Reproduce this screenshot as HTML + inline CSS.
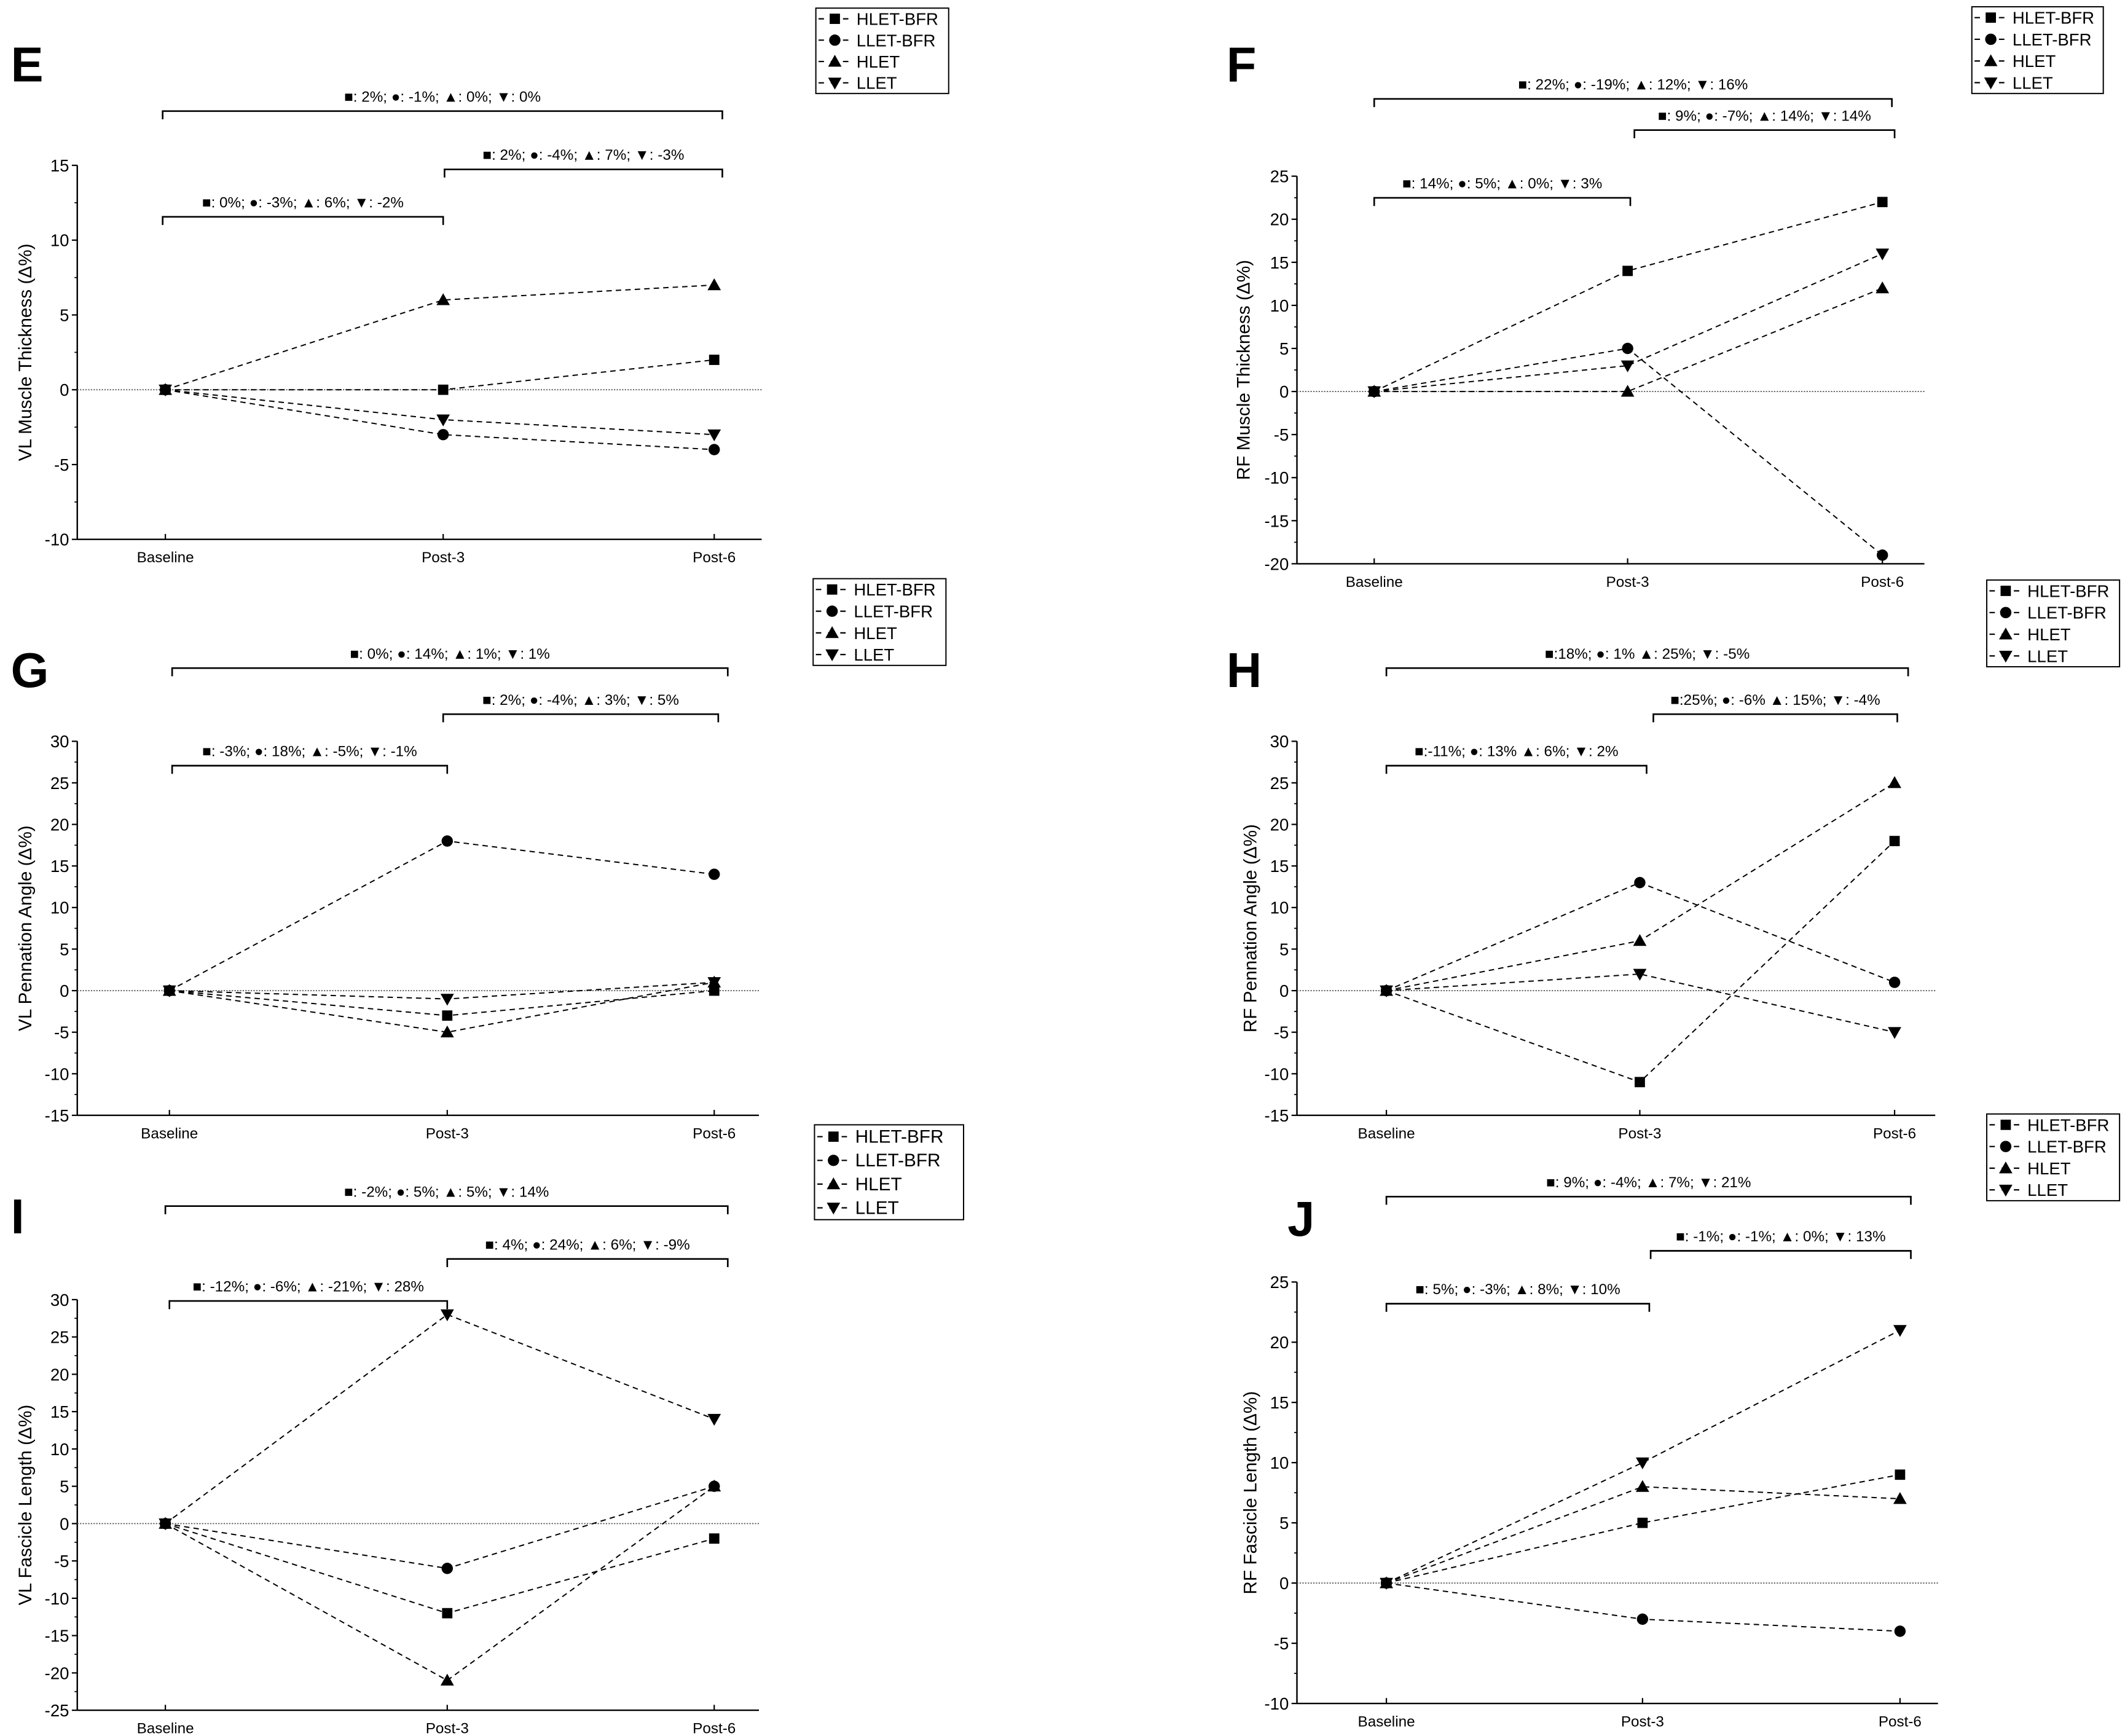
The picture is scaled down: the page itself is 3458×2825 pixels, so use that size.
<!DOCTYPE html>
<html><head><meta charset="utf-8"><style>
html,body{margin:0;padding:0;background:#fff}
svg{display:block}
text{font-family:"Liberation Sans","DejaVu Sans",sans-serif;fill:#000}
</style></head><body>
<svg id="fig" xmlns="http://www.w3.org/2000/svg" width="3458" height="2825" viewBox="0 0 1568 1281">
<rect width="1568" height="1281" fill="#fff"/>
</svg>
<script>
const categories = ['Baseline','Post-3','Post-6'];
const seriesNames = ['HLET-BFR','LLET-BFR','HLET','LLET'];
const seriesMarkers = ['square','circle','up','down'];
// values per panel: [HLET-BFR, LLET-BFR, HLET, LLET]
const valsE_HB=[0,0,2], valsE_LB=[0,-3,-4], valsE_H=[0,6,7], valsE_L=[0,-2,-3];
const valsF_HB=[0,14,22], valsF_LB=[0,5,-19], valsF_H=[0,0,12], valsF_L=[0,3,16];
const valsG_HB=[0,-3,0], valsG_LB=[0,18,14], valsG_H=[0,-5,1], valsG_L=[0,-1,1];
const valsH_HB=[0,-11,18], valsH_LB=[0,13,1], valsH_H=[0,6,25], valsH_L=[0,2,-5];
const valsI_HB=[0,-12,-2], valsI_LB=[0,-6,5], valsI_H=[0,-21,5], valsI_L=[0,28,14];
const valsJ_HB=[0,5,9], valsJ_LB=[0,-3,-4], valsJ_H=[0,8,7], valsJ_L=[0,10,21];
const ticksE=[-10,-5,0,5,10,15], ticksF=[-20,-15,-10,-5,0,5,10,15,20,25];
const ticksG=[-15,-10,-5,0,5,10,15,20,25,30], ticksH=[-15,-10,-5,0,5,10,15,20,25,30];
const ticksI=[-25,-20,-15,-10,-5,0,5,10,15,20,25,30], ticksJ=[-10,-5,0,5,10,15,20,25];
const titles={E:'VL Muscle Thickness (Δ%)',F:'RF Muscle Thickness (Δ%)',G:'VL Pennation Angle (Δ%)',H:'RF Pennation Angle (Δ%)',I:'VL Fascicle Length (Δ%)',J:'RF Fascicle Length (Δ%)'};
const bracketLabelsE=['■: 2%; ●: -1%; ▲: 0%; ▼: 0%','■: 2%; ●: -4%; ▲: 7%; ▼: -3%','■: 0%; ●: -3%; ▲: 6%; ▼: -2%'];
const bracketLabelsF=['■: 22%; ●: -19%; ▲: 12%; ▼: 16%','■: 9%; ●: -7%; ▲: 14%; ▼: 14%','■: 14%; ●: 5%; ▲: 0%; ▼: 3%'];
const bracketLabelsG=['■: 0%; ●: 14%; ▲: 1%; ▼: 1%','■: 2%; ●: -4%; ▲: 3%; ▼: 5%','■: -3%; ●: 18%; ▲: -5%; ▼: -1%'];
const bracketLabelsH=['■:18%; ●: 1% ▲: 25%; ▼: -5%','■:25%; ●: -6% ▲: 15%; ▼: -4%','■:-11%; ●: 13% ▲: 6%; ▼: 2%'];
const bracketLabelsI=['■: -2%; ●: 5%; ▲: 5%; ▼: 14%','■: 4%; ●: 24%; ▲: 6%; ▼: -9%','■: -12%; ●: -6%; ▲: -21%; ▼: 28%'];
const bracketLabelsJ=['■: 9%; ●: -4%; ▲: 7%; ▼: 21%','■: -1%; ●: -1%; ▲: 0%; ▼: 13%','■: 5%; ●: -3%; ▲: 8%; ▼: 10%'];

const NS='http://www.w3.org/2000/svg';
const svg=document.getElementById('fig');
function mk(tag,attrs,parent){const e=document.createElementNS(NS,tag);for(const k in attrs)e.setAttribute(k,attrs[k]);(parent||svg).appendChild(e);return e;}

const layouts=[
 {id:'E',data:[valsE_HB,valsE_LB,valsE_H,valsE_L],ticks:ticksE,br:bracketLabelsE,ax:57,yT:122,yB:398,xEnd:562,cx:[122,327,527],lx:8,ly:60,lg:[602,6,98,63],brs:[[120,533,82],[328,533,125],[120,327,160]],tx:18},
 {id:'F',data:[valsF_HB,valsF_LB,valsF_H,valsF_L],ticks:ticksF,br:bracketLabelsF,ax:957,yT:130,yB:416,xEnd:1420,cx:[1014,1201,1389],lx:905,ly:60,lg:[1455,5,97,64],brs:[[1014,1396,73],[1206,1398,96],[1014,1203,146]],tx:917},
 {id:'G',data:[valsG_HB,valsG_LB,valsG_H,valsG_L],ticks:ticksG,br:bracketLabelsG,ax:57,yT:547,yB:823,xEnd:560,cx:[125,330,527],lx:8,ly:507,lg:[600,427,98,64],brs:[[127,537,493],[327,530,527],[127,330,565]],tx:18},
 {id:'H',data:[valsH_HB,valsH_LB,valsH_H,valsH_L],ticks:ticksH,br:bracketLabelsH,ax:957,yT:547,yB:823,xEnd:1428,cx:[1023,1210,1398],lx:905,ly:507,lg:[1466,428,98,64],brs:[[1023,1408,493],[1220,1400,527],[1023,1215,565]],tx:922},
 {id:'I',data:[valsI_HB,valsI_LB,valsI_H,valsI_L],ticks:ticksI,br:bracketLabelsI,ax:57,yT:959,yB:1262,xEnd:560,cx:[122,330,527],lx:8,ly:910,lg:[601,830,110,70],brs:[[122,537,890],[330,537,929],[125,330,960]],tx:18},
 {id:'J',data:[valsJ_HB,valsJ_LB,valsJ_H,valsJ_L],ticks:ticksJ,br:bracketLabelsJ,ax:957,yT:946,yB:1257,xEnd:1430,cx:[1023,1212,1402],lx:950,ly:912,lg:[1466,822,98,64],brs:[[1023,1410,883],[1218,1410,923],[1023,1217,962]],tx:922}
];

function marker(g,type,x,y,s){
  let e;
  if(type==='square') e=mk('rect',{x:x-s,y:y-s,width:2*s,height:2*s,fill:'#000'},g);
  else if(type==='circle') e=mk('circle',{cx:x,cy:y,r:s*1.1,fill:'#000'},g);
  else if(type==='up') e=mk('polygon',{points:`${x},${y-s*1.3} ${x-s*1.3},${y+s} ${x+s*1.3},${y+s}`,fill:'#000'},g);
  else e=mk('polygon',{points:`${x},${y+s*1.3} ${x-s*1.3},${y-s} ${x+s*1.3},${y-s}`,fill:'#000'},g);
  return e;
}

layouts.forEach(L=>{
  const g=mk('g',{});
  
  
  const yMin=L.ticks[0], yMax=L.ticks[L.ticks.length-1];
  const Y=v=>L.yB-(v-yMin)/(yMax-yMin)*(L.yB-L.yT);
  const X=i=>L.cx[i];
  // letter
  const lt=mk('text',{x:L.lx,y:L.ly,'font-size':36,'font-weight':'bold'},g);
  lt.textContent=L.id;
  
  
  // axes
  const ya=mk('line',{x1:L.ax,y1:L.yT,x2:L.ax,y2:L.yB,stroke:'#000','stroke-width':1.1},g);
  
  
  const xa=mk('line',{x1:L.ax,y1:L.yB,x2:L.xEnd,y2:L.yB,stroke:'#000','stroke-width':1.1},g);
  
  
  L.ticks.forEach((t,i)=>{
    mk('line',{x1:L.ax-4,y1:Y(t),x2:L.ax,y2:Y(t),stroke:'#000','stroke-width':1},g);
    if(i<L.ticks.length-1){const m=(t+L.ticks[i+1])/2;mk('line',{x1:L.ax-2,y1:Y(m),x2:L.ax,y2:Y(m),stroke:'#000','stroke-width':0.8},g);}
    const tl=mk('text',{x:L.ax-6,y:Y(t)+4.5,'font-size':12.5,'text-anchor':'end'},g);
    tl.textContent=t;
    
    
  });
  categories.forEach((c,i)=>{
    mk('line',{x1:X(i),y1:L.yB,x2:X(i),y2:L.yB-4,stroke:'#000','stroke-width':1},g);
    const cl=mk('text',{x:X(i),y:L.yB+17,'font-size':11,'text-anchor':'middle'},g);
    cl.textContent=c;
    
    
  });
  // y title
  const ym=(L.yT+L.yB)/2;
  const yt=mk('text',{x:L.tx,y:ym,'font-size':13.5,'text-anchor':'middle',transform:`rotate(-90 ${L.tx} ${ym})`,dy:5},g);
  yt.textContent=titles[L.id];
  
  
  // zero line
  const zl=mk('line',{x1:L.ax,y1:Y(0),x2:L.xEnd,y2:Y(0),stroke:'#555','stroke-width':0.8,'stroke-dasharray':'1 1'},g);
  
  
  // series
  L.data.forEach((vals,si)=>{
    const sg=mk('g',{},g);
    
    
    const pts=vals.map((v,i)=>X(i)+','+Y(v)).join(' ');
    mk('polyline',{points:pts,fill:'none',stroke:'#000','stroke-width':0.9,'stroke-dasharray':'4 3'},sg);
    vals.forEach((v,i)=>{
      const m=marker(sg,seriesMarkers[si],X(i),Y(v),3.8);
      
      
    });
  });
  // brackets
  L.brs.forEach((b,bi)=>{
    const bg=mk('g',{},g);
    
    
    mk('path',{d:`M${b[0]},${b[2]+6} V${b[2]} H${b[1]} V${b[2]+6}`,fill:'none',stroke:'#000','stroke-width':1.2},bg);
    const t=mk('text',{x:(b[0]+b[1])/2,y:b[2]-7,'font-size':11,'text-anchor':'middle'},bg);
    t.textContent=L.br[bi];
  });
  // legend
  const [lx,ly,lw,lh]=L.lg;
  const lgg=mk('g',{},g);
  
  
  mk('rect',{x:lx,y:ly,width:lw,height:lh,fill:'#fff',stroke:'#000','stroke-width':0.9},lgg);
  const rowH=lh/4;
  seriesNames.forEach((n,i)=>{
    const ry=ly+rowH*(i+0.5);
    const eg=mk('g',{},lgg);
    
    
    mk('line',{x1:lx+2,y1:ry,x2:lx+26,y2:ry,stroke:'#000','stroke-width':1,'stroke-dasharray':'4 5'},eg);
    marker(eg,seriesMarkers[i],lx+14,ry,3.8);
    const t=mk('text',{x:lx+30,y:ry+4.5,'font-size':lh>66?13.5:12.5},eg);
    t.textContent=n;
  });
});
</script>
</body></html>
